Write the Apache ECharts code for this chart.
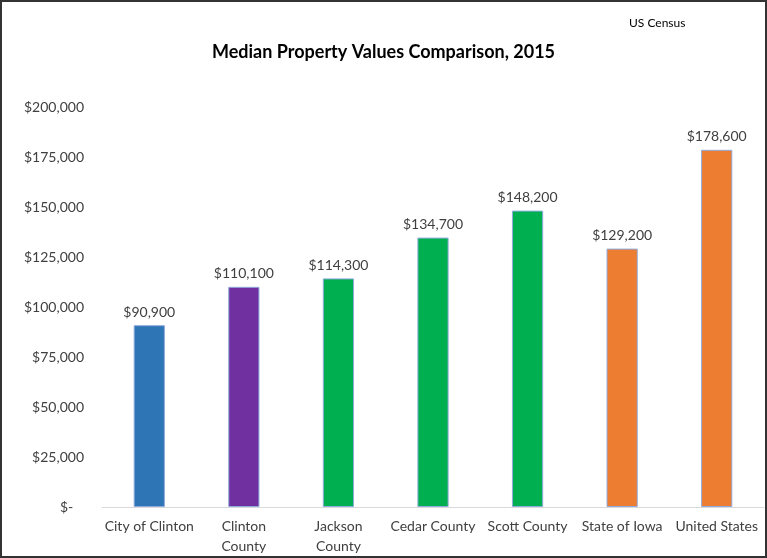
<!DOCTYPE html>
<html>
<head>
<meta charset="utf-8">
<script src="https://cdn.jsdelivr.net/npm/echarts@6/dist/echarts.min.js"></script>
<style>
  html, body { margin: 0; padding: 0; background: #fff; }
  #chart { width: 767px; height: 558px; box-sizing: border-box; border: 2px solid #333; }
</style>
</head>
<body>
<div id="chart"></div>
<script>
const categories = ['City of Clinton', 'Clinton\nCounty', 'Jackson\nCounty', 'Cedar County', 'Scott County', 'State of Iowa', 'United States'];
const values = [90900, 110100, 114300, 134700, 148200, 129200, 178600];
const barColors = ['#2e75b6', '#7030a0', '#00b050', '#00b050', '#00b050', '#ed7d31', '#ed7d31'];
const yTicks = [0, 25000, 50000, 75000, 100000, 125000, 150000, 175000, 200000];

const fmt = v => v === 0 ? '$-   ' : '$' + v.toLocaleString('en-US');

const chart = echarts.init(document.getElementById('chart'));
const font = 'Lato, "Open Sans", sans-serif';

chart.setOption({
    animation: false,
    textStyle: { fontFamily: font },
    title: [
        {
            text: 'Median Property Values Comparison, 2015',
            left: 'center', top: 36,
            textStyle: { fontSize: 18, fontWeight: 'bold', color: '#000', fontFamily: font }
        },
        {
            text: 'US Census',
            left: 622, top: 10,
            textStyle: { fontSize: 12, fontWeight: 'normal', color: '#000', fontFamily: font }
        }
    ],
    grid: { left: 100, right: 1, top: 105, bottom: 41 },
    xAxis: {
        type: 'category',
        data: categories,
        axisLine: { lineStyle: { color: '#d9d9d9', width: 1 } },
        axisTick: { show: false },
        axisLabel: { color: '#404040', fontSize: 14, margin: 9, interval: 0, lineHeight: 20 }
    },
    yAxis: {
        type: 'value',
        min: yTicks[0],
        max: yTicks[yTicks.length - 1],
        interval: yTicks[1] - yTicks[0],
        axisLine: { show: false },
        axisTick: { show: false },
        splitLine: { show: false },
        axisLabel: { color: '#404040', fontSize: 14, margin: 18, formatter: fmt }
    },
    series: [{
        type: 'bar',
        barWidth: '33%',
        data: values.map((v, i) => ({
            value: v,
            itemStyle: { color: barColors[i], borderColor: '#8faadc', borderWidth: 1 }
        })),
        label: {
            show: true,
            position: 'top',
            distance: 6,
            color: '#404040',
            fontSize: 14,
            formatter: p => fmt(p.value)
        }
    }]
});
</script>
</body>
</html>
